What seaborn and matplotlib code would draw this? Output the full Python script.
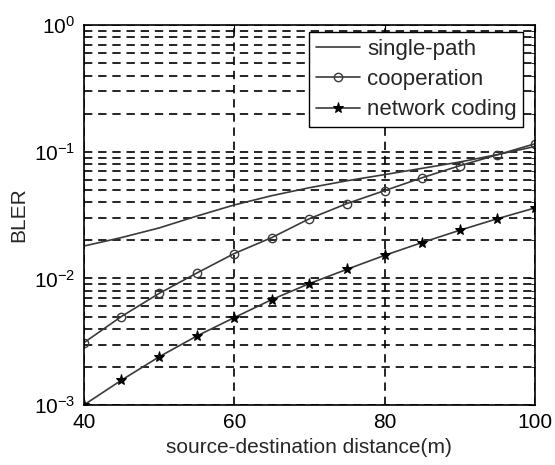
import pandas as pd
import matplotlib.pyplot as plt
import seaborn as sns
from matplotlib.ticker import LogLocator, NullFormatter

# =====================================================
# Data
# =====================================================
distance = [40, 45, 50, 55, 60, 65, 70, 75, 80, 85, 90, 95, 100]
single_path = [0.018, 0.021, 0.025, 0.031, 0.038, 0.045, 0.052, 0.059,
               0.066, 0.074, 0.083, 0.095, 0.11]
cooperation = [0.0031, 0.005, 0.0076, 0.011, 0.0157, 0.021, 0.0296, 0.039,
               0.0493, 0.0624, 0.0776, 0.0946, 0.1156]
network_coding = [0.001, 0.00157, 0.0024, 0.0035, 0.0049, 0.0068, 0.0091,
                  0.0118, 0.0152, 0.0192, 0.024, 0.0296, 0.036]

df = pd.DataFrame({
    "distance": distance,
    "single-path": single_path,
    "cooperation": cooperation,
    "network coding": network_coding,
})

# =====================================================
# Style
# =====================================================
sns.set_style("white")
plt.rcParams["font.family"] = ["Liberation Sans", "DejaVu Sans"]

fig = plt.figure(figsize=(5.55, 4.65), dpi=100)
ax = fig.add_axes([0.151, 0.129, 0.813, 0.817])

line_color = "#3a3a3a"
sns.lineplot(data=df, x="distance", y="single-path", ax=ax, color=line_color,
             linewidth=1.2, label="single-path")
sns.lineplot(data=df, x="distance", y="cooperation", ax=ax, color=line_color,
             linewidth=1.2, marker="o", markersize=6, markerfacecolor="none",
             markeredgecolor=line_color, markeredgewidth=1.0, label="cooperation")
sns.lineplot(data=df, x="distance", y="network coding", ax=ax, color=line_color,
             linewidth=1.2, marker="*", markersize=8, markerfacecolor="black",
             markeredgecolor="black", label="network coding")

# =====================================================
# Axes
# =====================================================
ax.set_yscale("log")
ax.set_xlim(40, 100)
ax.set_ylim(1e-3, 1)
ax.set_xticks([40, 60, 80, 100])
ax.yaxis.set_major_locator(LogLocator(base=10, numticks=10))
ax.yaxis.set_minor_locator(LogLocator(base=10, subs=range(2, 10), numticks=10))
ax.yaxis.set_minor_formatter(NullFormatter())

ax.grid(True, which="major", axis="both", color="black", linestyle=(0, (5, 3.5)), linewidth=1.2)
ax.grid(True, which="minor", axis="y", color="black", linestyle=(0, (5, 3.5)), linewidth=1.2)

for spine in ax.spines.values():
    spine.set_color("black")
    spine.set_linewidth(1.2)

ax.tick_params(which="both", direction="in", top=True, right=True, colors="black")
ax.tick_params(which="major", length=5, labelsize=15, pad=6)
ax.tick_params(which="minor", length=3)

ax.set_xlabel("source-destination distance(m)", fontsize=15, labelpad=4)
ax.set_ylabel("BLER", fontsize=15, labelpad=4)

leg = ax.legend(loc="upper right", bbox_to_anchor=(0.974, 0.982), fontsize=16,
                frameon=True, fancybox=False, edgecolor="black", framealpha=1,
                borderaxespad=0, handlelength=2.0, handletextpad=0.3,
                borderpad=0.3, labelspacing=0.42)
leg.get_frame().set_linewidth(1.0)

plt.savefig("out.png", dpi=100)
plt.close()
